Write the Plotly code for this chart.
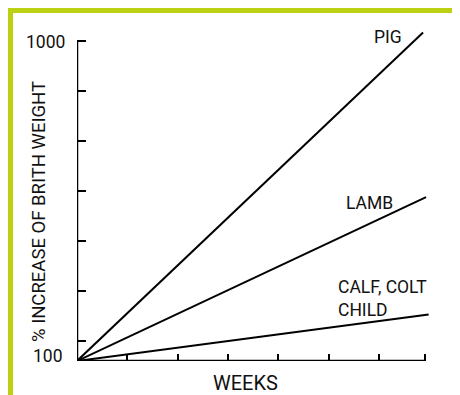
import plotly.graph_objects as go

# ---- data ----
series_names = ["PIG", "LAMB", "CALF, COLT<br>CHILD"]
start_week = 0
start_value = 100
end_weeks = [6.88, 6.94, 6.99]
end_values = [1024, 561, 231]

x_tick_weeks = [1, 2, 3, 4, 5, 6, 6.92]
y_tick_values = [156, 297, 438, 578, 719, 860, 1000]
y_label_values = [100, 1000]
y_label_texts = ["100", "1000"]
x_axis_end = 6.92
y_axis_top = 1000

# label anchor positions (data coords)
label_x = [6.19, 5.81, 5.15]
label_y = [1010, 545, 275]
label_anchor = ["center", "center", "left"]

FONT = "Roboto, Arial, sans-serif"
GREEN = "#bcd014"
TXT = "#111111"

OFF = 8  # page body margin
W, H = 460 - OFF, 395 - OFF
L, R, T, B = 77 - OFF, 29, 28 - OFF, 34
pw, ph = W - L - R, H - T - B
x_range = [0, pw / 50.3]
y_range = [100, 100 + ph * 2.8125]


def px_x(p):
    return (p - OFF - L) / pw


def px_y(p):
    return (H - B - (p - OFF)) / ph


fig = go.Figure()
for name, xe, ye in zip(series_names, end_weeks, end_values):
    fig.add_trace(go.Scatter(
        x=[start_week, xe], y=[start_value, ye], mode="lines",
        line=dict(color="#000000", width=2), name=name, showlegend=False,
        hoverinfo="skip"))

lab_font = dict(family=FONT, size=17.5, color=TXT)

annotations = []
for name, lx, ly, anc in zip(series_names, label_x, label_y, label_anchor):
    annotations.append(dict(
        x=lx, y=ly, xref="x", yref="y", text=name, showarrow=False,
        xanchor=anc, yanchor="middle", align="left", font=lab_font))

# y labels
annotations.append(dict(x=0, y=y_label_values[0], xref="x", yref="y",
                        text=y_label_texts[0], showarrow=False, xanchor="right",
                        yanchor="middle", xshift=-12, yshift=5, font=lab_font))
annotations.append(dict(x=0, y=y_label_values[1], xref="x", yref="y",
                        text=y_label_texts[1], showarrow=False, xanchor="right",
                        yanchor="middle", xshift=-10, yshift=-1, font=lab_font))

# axis titles
annotations.append(dict(x=px_x(39), y=px_y(212), xref="paper", yref="paper",
                        text="% INCREASE OF BRITH WEIGHT", textangle=-90,
                        showarrow=False, xanchor="center", yanchor="middle",
                        font=dict(family=FONT, size=18.5, color=TXT)))
annotations.append(dict(x=px_x(245), y=px_y(383), xref="paper", yref="paper",
                        text="WEEKS", showarrow=False, xanchor="center", yanchor="middle",
                        font=dict(family=FONT, size=20, color=TXT)))

shapes = [
    # axis lines in data coordinates
    dict(type="line", xref="x", yref="y", x0=0, y0=start_value, x1=x_axis_end, y1=start_value,
         line=dict(color="#000000", width=2.5)),
    dict(type="line", xref="x", yref="y", x0=0, y0=start_value, x1=0, y1=y_axis_top,
         line=dict(color="#000000", width=2.5)),
    # decorative frame
    dict(type="rect", xref="paper", yref="paper", x0=px_x(7), x1=px_x(462),
         y0=px_y(13), y1=px_y(8), fillcolor=GREEN, line=dict(width=0), layer="below"),
    dict(type="rect", xref="paper", yref="paper", x0=px_x(7), x1=px_x(13),
         y0=px_y(397), y1=px_y(8), fillcolor=GREEN, line=dict(width=0), layer="below"),
    dict(type="line", xref="paper", yref="paper", x0=px_x(456.5), x1=px_x(456.5),
         y0=px_y(397), y1=px_y(13), line=dict(color="#eef3cc", width=1.5), layer="below"),
]

fig.update_layout(
    width=W, height=H,
    margin=dict(l=L, r=R, t=T, b=B, pad=0),
    paper_bgcolor="white", plot_bgcolor="white",
    annotations=annotations, shapes=shapes,
    xaxis=dict(range=x_range, showgrid=False, zeroline=False, showline=False,
               tickvals=x_tick_weeks, showticklabels=False, ticks="inside",
               ticklen=7, tickwidth=1.5, tickcolor="#000000", fixedrange=True),
    yaxis=dict(range=y_range, showgrid=False, zeroline=False, showline=False,
               tickvals=y_tick_values, showticklabels=False, ticks="inside",
               ticklen=9, tickwidth=1.5, tickcolor="#000000", fixedrange=True),
)

fig.write_html("out.html", config={"displayModeBar": False})
